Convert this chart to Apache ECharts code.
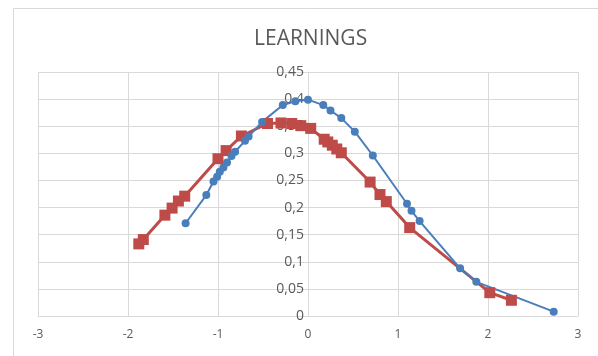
<!DOCTYPE html>
<html>
<head>
<meta charset="utf-8">
<script src="https://cdn.jsdelivr.net/npm/echarts@6/dist/echarts.min.js"></script>
<style>
html,body{margin:0;padding:0;background:#fff;}
#chart{width:598px;height:356px;}
</style>
</head>
<body>
<div id="chart"></div>
<script>
const chartTitle = 'LEARNINGS';
const blueX = [-1.36,-1.13,-1.05,-1.01,-0.98,-0.94,-0.90,-0.85,-0.81,-0.70,-0.66,-0.51,-0.28,-0.14,0.00,0.17,0.25,0.37,0.52,0.72,1.10,1.15,1.24,1.69,1.87,2.73];
const blueY = [0.171,0.223,0.248,0.257,0.266,0.274,0.283,0.295,0.303,0.323,0.331,0.358,0.389,0.396,0.399,0.389,0.379,0.365,0.340,0.296,0.207,0.194,0.175,0.088,0.063,0.008];
const redX = [-1.88,-1.83,-1.59,-1.51,-1.44,-1.37,-1.00,-0.91,-0.74,-0.45,-0.30,-0.18,-0.08,0.03,0.18,0.22,0.27,0.32,0.37,0.69,0.80,0.87,1.13,2.02,2.26];
const redY = [0.133,0.141,0.186,0.199,0.212,0.221,0.290,0.305,0.332,0.355,0.356,0.355,0.351,0.346,0.326,0.321,0.315,0.308,0.301,0.247,0.224,0.211,0.163,0.043,0.029];

const zip = (xs, ys) => xs.map((x, i) => [x, ys[i]]);
const font = '"Open Sans", Lato, sans-serif';
const chart = echarts.init(document.getElementById('chart'), null, {renderer: 'canvas'});
chart.setOption({
  animation: false,
  backgroundColor: '#fff',
  graphic: [{
    type: 'rect', left: 11, top: 6, z: -10,
    shape: {width: 600, height: 360},
    style: {fill: 'none', stroke: '#d9d9d9', lineWidth: 1}
  }],
  title: {
    text: chartTitle, left: 249, top: 24,
    textStyle: {fontFamily: font, fontSize: 21, fontWeight: 'normal', color: '#595959'}
  },
  grid: {left: 38, right: 20, top: 72, bottom: 40, containLabel: false},
  xAxis: {
    type: 'value', min: -3, max: 3, interval: 1,
    axisLine: {show: true, onZero: false, lineStyle: {color: '#d9d9d9'}},
    axisTick: {show: false},
    axisLabel: {fontFamily: font, fontSize: 12, color: '#595959', margin: 13},
    splitLine: {show: true, lineStyle: {color: '#d9d9d9'}}
  },
  yAxis: {
    type: 'value', min: 0, max: 0.45, interval: 0.05,
    axisLine: {show: true, onZero: true, lineStyle: {color: '#d9d9d9'}},
    axisTick: {show: false},
    axisLabel: {
      fontFamily: font, fontSize: 14, color: '#595959', margin: 4,
      formatter: v => String(Math.round(v * 100) / 100).replace('.', ',')
    },
    splitLine: {show: true, lineStyle: {color: '#d9d9d9'}}
  },
  series: [
    {
      type: 'line', data: zip(redX, redY),
      symbol: 'rect', symbolSize: 11,
      lineStyle: {color: '#be4b48', width: 3},
      itemStyle: {color: '#be4b48'}
    },
    {
      type: 'line', data: zip(blueX, blueY),
      symbol: 'circle', symbolSize: 8,
      lineStyle: {color: '#4a7ebb', width: 2},
      itemStyle: {color: '#4a7ebb'}
    }
  ]
});
// place the y axis where x = 0, using the chart's own scale
const zeroPx = chart.convertToPixel({gridIndex: 0}, [0, 0])[0];
const leftPx = chart.convertToPixel({gridIndex: 0}, [-3, 0])[0];
chart.setOption({yAxis: {offset: -(zeroPx - leftPx)}});
</script>
</body>
</html>
